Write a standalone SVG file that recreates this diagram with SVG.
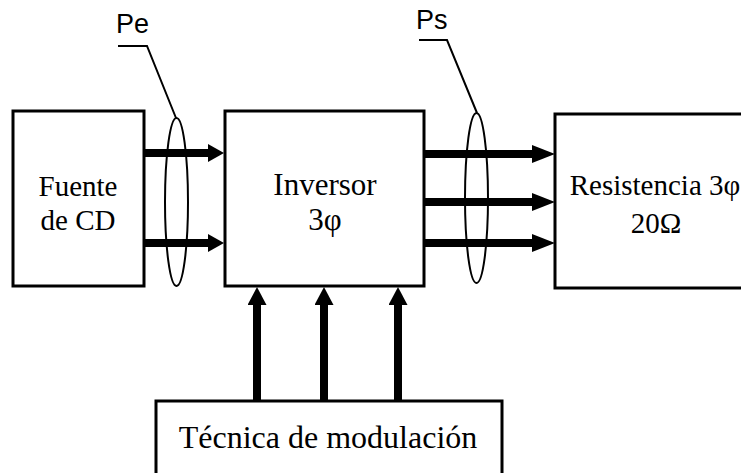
<svg xmlns="http://www.w3.org/2000/svg" width="741" height="473" viewBox="0 0 741 473">
  <style>
    .box { fill: #fff; stroke: #000; stroke-width: 3; }
    .lbl { font-family: 'Liberation Serif', 'Times New Roman', Times, serif; font-size: 29px; fill: #000; text-anchor: middle; }
    .big { font-size: 31px; }
    .tec { font-size: 32px; }
    .tag { font-family: 'Liberation Sans', Arial, sans-serif; font-size: 27px; fill: #000; }
    .bus { stroke: #000; stroke-width: 8; fill: none; }
    .ring { fill: none; stroke: #000; stroke-width: 2; }
    .lead { fill: none; stroke: #000; stroke-width: 2; }
  </style>
  <defs>
    <marker id="ahS" markerUnits="userSpaceOnUse" markerWidth="16" markerHeight="18" viewBox="0 0 16 18" refX="0" refY="9" orient="auto">
      <path d="M0,0 L16,9 L0,18 Z" fill="#000"/>
    </marker>
    <marker id="ahL" markerUnits="userSpaceOnUse" markerWidth="23" markerHeight="18" viewBox="0 0 23 18" refX="0" refY="9" orient="auto">
      <path d="M0,0 L23,9 L0,18 Z" fill="#000"/>
    </marker>
    <marker id="ahV" markerUnits="userSpaceOnUse" markerWidth="18" markerHeight="19" viewBox="0 0 18 19" refX="0" refY="9.5" orient="auto">
      <path d="M0,0 L18,9.5 L0,19 Z" fill="#000"/>
    </marker>
  </defs>
  <rect width="741" height="473" fill="#fff"/>

  <g id="fuente">
    <rect class="box" x="13" y="111" width="131" height="175"/>
    <text class="lbl" x="78" y="196">Fuente</text>
    <text class="lbl" x="78" y="230">de CD</text>
  </g>

  <g id="inversor">
    <rect class="box" x="225" y="111" width="199" height="175"/>
    <text class="lbl big" x="325" y="195">Inversor</text>
    <text class="lbl big" x="325" y="230">3φ</text>
  </g>

  <g id="resistencia">
    <rect class="box" x="555" y="114" width="210" height="174"/>
    <text class="lbl" x="655" y="195">Resistencia 3φ</text>
    <text class="lbl" x="656" y="233">20Ω</text>
  </g>

  <g id="tecnica">
    <rect class="box" x="156" y="401" width="346" height="90"/>
    <text class="lbl tec" x="328" y="448">Técnica de modulación</text>
  </g>

  <g id="connectors">
    <line class="bus" x1="144" y1="153" x2="208" y2="153" marker-end="url(#ahS)"/>
    <line class="bus" x1="144" y1="243" x2="208" y2="243" marker-end="url(#ahS)"/>
    <line class="bus" x1="424" y1="154" x2="532" y2="154" marker-end="url(#ahL)"/>
    <line class="bus" x1="424" y1="202" x2="532" y2="202" marker-end="url(#ahL)"/>
    <line class="bus" x1="424" y1="243" x2="532" y2="243" marker-end="url(#ahL)"/>
    <line class="bus" x1="257" y1="401" x2="257" y2="305" marker-end="url(#ahV)"/>
    <line class="bus" x1="324" y1="401" x2="324" y2="305" marker-end="url(#ahV)"/>
    <line class="bus" x1="398" y1="401" x2="398" y2="305" marker-end="url(#ahV)"/>
  </g>

  <g id="pe">
    <ellipse class="ring" cx="176.5" cy="202" rx="11.5" ry="84"/>
    <polyline class="lead" points="118,46 147,46 176,118"/>
    <text class="tag" x="116" y="33">Pe</text>
  </g>

  <g id="ps">
    <ellipse class="ring" cx="476.5" cy="198" rx="11.5" ry="85"/>
    <polyline class="lead" points="419,40 447,40 477,113"/>
    <text class="tag" x="416" y="29">Ps</text>
  </g>
</svg>
